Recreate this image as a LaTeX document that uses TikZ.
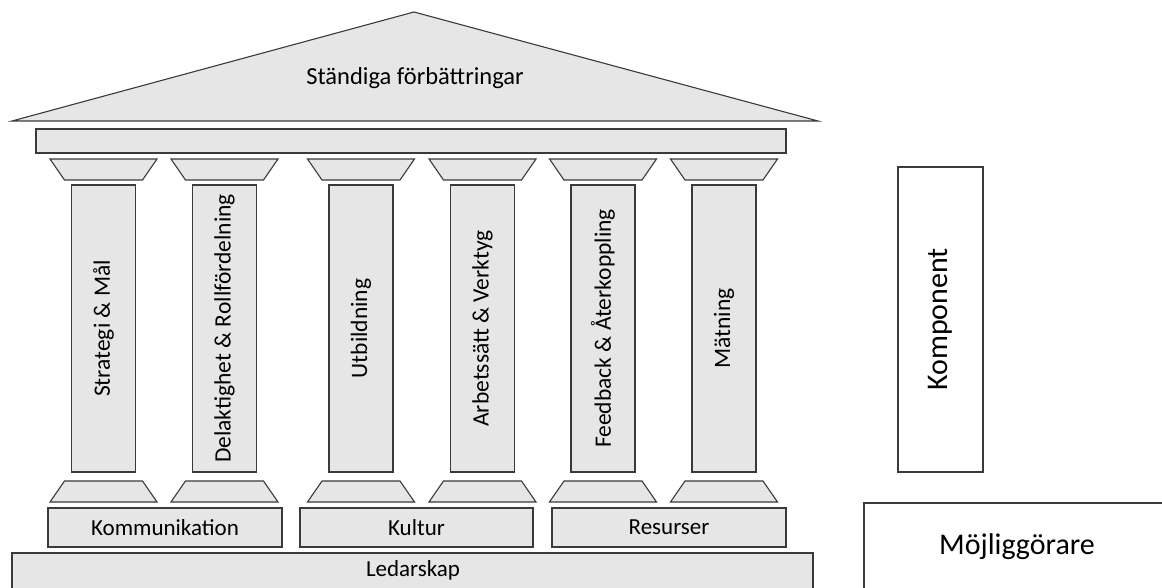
\documentclass[tikz,border=0pt]{standalone}
\usepackage{fontspec}
\setmainfont{Carlito}
\definecolor{fillgray}{HTML}{E7E6E6}
\definecolor{linegray}{HTML}{3A3A3A}
\begin{document}
\begin{tikzpicture}[x=1pt,y=-1pt,
  part/.style={draw=linegray, line width=1.1pt, fill=fillgray},
  bar/.style={part, inner sep=0pt, font=\fontsize{23}{27}\selectfont},
  shaft/.style={part, inner sep=0pt, rotate=90, minimum width=287pt, minimum height=64pt, font=\fontsize{23.5}{27}\selectfont},
  side/.style={draw=linegray, line width=1.1pt, fill=white, inner sep=0pt, font=\fontsize{30}{34}\selectfont}
]
\clip (0,0) rectangle (1162,588);
\fill[white] (0,0) rectangle (1162,588);
% roof
\draw[part] (12,121) -- (414,12) -- (818,121) -- cycle;
\node[font=\fontsize{24.5}{28}\selectfont] (roof) at (415,78) {Ständiga förbättringar};
% architrave
\node[bar, minimum width=750pt, minimum height=24pt] (arch) at (411,141) {};
% columns
\foreach \cx/\name/\txt in {103.5/c1/{Strategi \& Mål}, 224.5/c2/{Delaktighet \& Rollfördelning}, 361/c3/{Utbildning}, 482.5/c4/{Arbetssätt \& Verktyg}, 603/c5/{Feedback \& Återkoppling}, 724/c6/{Mätning}}{
  \draw[part] (\cx-53.5,159) -- (\cx+53.5,159) -- (\cx+39,180) -- (\cx-39,180) -- cycle;
  \node[shaft] (\name) at (\cx,328.5) {\txt};
  \draw[part] (\cx-39,481) -- (\cx+39,481) -- (\cx+53.5,502) -- (\cx-53.5,502) -- cycle;
}
% base bars
\node[bar, minimum width=234pt, minimum height=39pt] (komm) at (165,527.5) {Kommunikation};
\node[bar, minimum width=233pt, minimum height=39pt] (kult) at (416.5,527.5) {Kultur};
\node[bar, minimum width=234pt, minimum height=39pt] (res) at (669,527.5) {Resurser};
\node[bar, minimum width=801pt, minimum height=40pt, text depth=0pt] (led) at (412.5,573) {};
\node[font=\fontsize{23}{27}\selectfont] (ledt) at (413,570) {Ledarskap};
% legend
\node[side, rotate=90, minimum width=305pt, minimum height=85pt] (komp) at (940.5,319.5) {Komponent};
\node[side, minimum width=310pt, minimum height=95pt] (moj) at (1019,550.5) {};
\node[font=\fontsize{30}{34}\selectfont] (mojt) at (1017,547) {Möjliggörare};
\end{tikzpicture}
\end{document}
